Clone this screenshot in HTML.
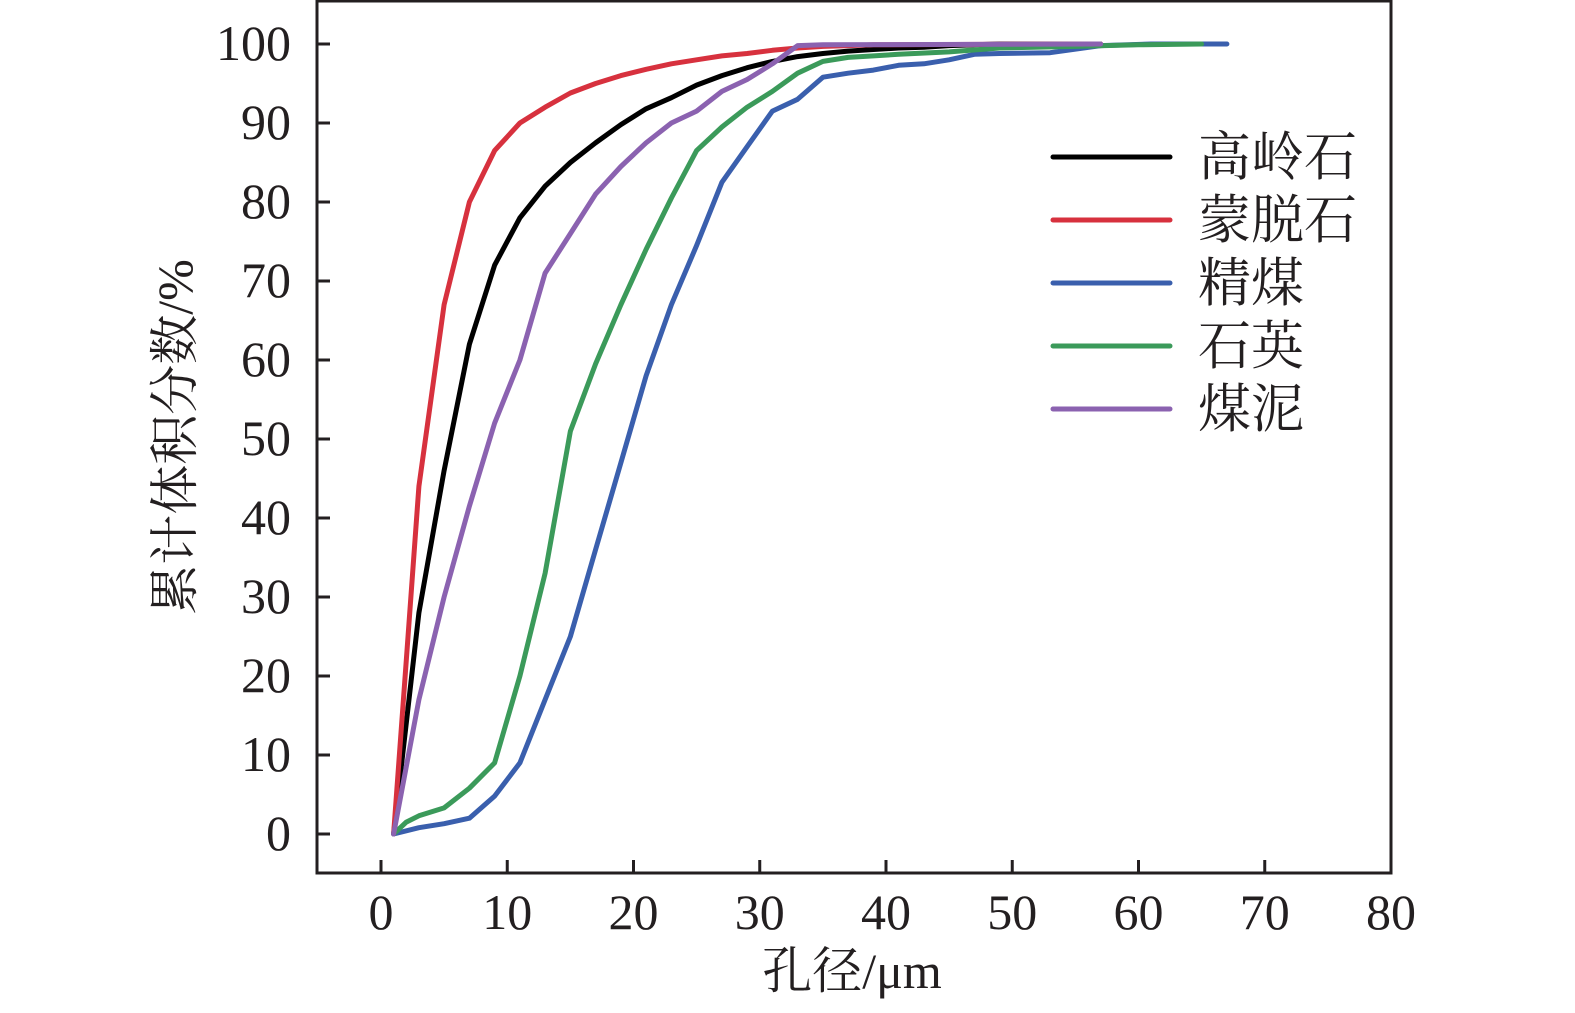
<!DOCTYPE html>
<html><head><meta charset="utf-8"><style>
html,body{margin:0;padding:0;background:#fff;}
svg text{font-family:"Liberation Serif","Noto Serif CJK SC",serif;fill:#231f20;}
</style></head><body>
<svg id="chart" width="1575" height="1008" viewBox="0 0 1575 1008" xmlns="http://www.w3.org/2000/svg">
<g id="axes"></g><g id="series"></g><g id="legend"></g>
</svg>
<script>
const xTicks=[0,10,20,30,40,50,60,70,80];
const yTicks=[0,10,20,30,40,50,60,70,80,90,100];
const seriesNames=["高岭石","蒙脱石","精煤","石英","煤泥"];
const seriesColors=["#000000","#d7313e","#3a5fad","#3b9a5a","#8b62b0"];
const kaolinX=[1,3,5,7,9,11,13,15,17,19,21,23,25,27,29,31,33,35,37,39,41,43,45,47,49,57];
const kaolinY=[0,28,46,62,72,78,82,85,87.5,89.8,91.8,93.2,94.8,96,97,97.8,98.4,98.8,99.1,99.3,99.5,99.6,99.8,99.9,100,100];
const montX=[1,2,3,5,7,9,11,13,15,17,19,21,23,25,27,29,31,33,35,37,39,57];
const montY=[0,22,44,67,80,86.5,90,92,93.8,95,96,96.8,97.5,98,98.5,98.8,99.2,99.5,99.7,99.8,99.9,100];
const coalX=[1,3,5,7,9,11,13,15,17,19,21,23,25,27,29,31,33,35,37,39,41,43,45,47,49,53,57,61,67];
const coalY=[0,0.8,1.3,2,4.8,9,17,25,36,47,58,67,74.5,82.5,87,91.5,93,95.8,96.3,96.7,97.3,97.5,98,98.7,98.8,98.9,99.8,100,100];
const quartzX=[1,2,3,5,7,9,11,13,15,17,19,21,23,25,27,29,31,33,35,37,39,41,45,49,55,60,65];
const quartzY=[0,1.5,2.3,3.3,5.8,9,20,33,51,59.5,67,74,80.5,86.5,89.5,92,94,96.3,97.8,98.3,98.5,98.7,99,99.5,99.7,99.9,100];
const slimeX=[1,3,5,7,9,11,13,15,17,19,21,23,25,27,29,31,33,35,57];
const slimeY=[0,17,30,41.5,52,60,71,76,81,84.5,87.5,90,91.5,94,95.5,97.5,99.8,99.9,100];
const seriesX=[kaolinX,montX,coalX,quartzX,slimeX];
const seriesY=[kaolinY,montY,coalY,quartzY,slimeY];

const NS="http://www.w3.org/2000/svg";
const L=317,R=1391,T=1,B=873;
const sx=v=>381+(v)*(1391-381)/80;
const sy=v=>834-v*(834-44)/100;
function mk(tag,attrs,parent){const e=document.createElementNS(NS,tag);for(const k in attrs)e.setAttribute(k,attrs[k]);parent.appendChild(e);return e;}
const axes=document.getElementById('axes');
const frame=mk('rect',{x:L,y:T,width:R-L,height:B-T,fill:'none',stroke:'#231f20','stroke-width':3},axes);


xTicks.forEach(v=>{
  const t=mk('line',{x1:sx(v),x2:sx(v),y1:B,y2:B-13,stroke:'#231f20','stroke-width':3},axes);
  
  
  const l=mk('text',{x:sx(v),y:929,'font-size':50,'text-anchor':'middle'},axes);
  l.textContent=v;
  
  
});
yTicks.forEach(v=>{
  const t=mk('line',{x1:L,x2:L+13,y1:sy(v),y2:sy(v),stroke:'#231f20','stroke-width':3},axes);
  
  
  const l=mk('text',{x:291,y:sy(v)+16,'font-size':50,'text-anchor':'end'},axes);
  l.textContent=v;
  
  
});
const xt=mk('text',{x:852,y:988,'font-size':50,'text-anchor':'middle'},axes);
xt.textContent='孔径/μm';


const yt=mk('text',{x:0,y:0,'font-size':50,'text-anchor':'middle',transform:'translate(192,437) rotate(-90)'},axes);
yt.textContent='累计体积分数/%';


const sg=document.getElementById('series');
const lg=document.getElementById('legend');
seriesX.forEach((xs,i)=>{
  const d=xs.map((x,j)=>(j?'L':'M')+sx(x).toFixed(1)+','+sy(seriesY[i][j]).toFixed(1)).join('');
  const p=mk('path',{d:d,fill:'none',stroke:seriesColors[i],'stroke-width':5,'stroke-linejoin':'round','stroke-linecap':'round'},sg);
  
  
  const ly=157+i*63;
  const ll=mk('line',{x1:1053,x2:1170,y1:ly,y2:ly,stroke:seriesColors[i],'stroke-width':5,'stroke-linecap':'round'},lg);
  
  
  const lt=mk('text',{x:1198,y:ly+18,'font-size':53},lg);
  lt.textContent=seriesNames[i];
  
  
});
</script>
</body></html>
